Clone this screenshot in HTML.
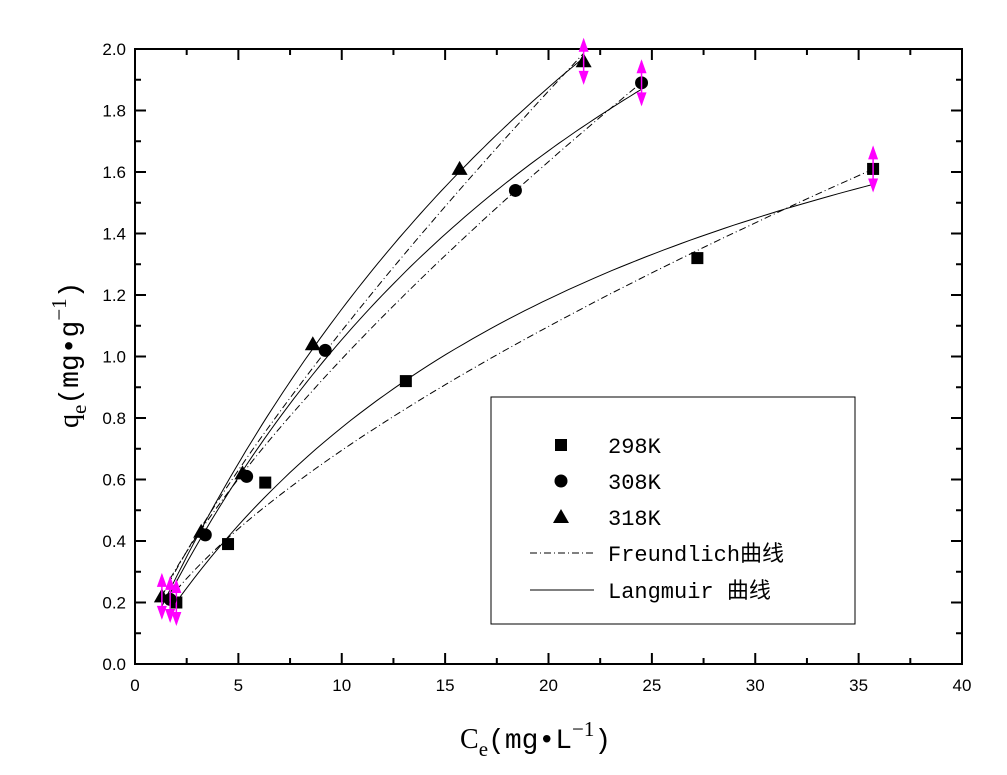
<!DOCTYPE html>
<html><head><meta charset="utf-8"><style>
body{margin:0;background:#fff;}
svg text{font-family:"Liberation Sans",sans-serif;}
</style></head><body>
<svg id="chart" width="1007" height="770" xmlns="http://www.w3.org/2000/svg">
<g id="g"></g>
</svg>
<script>
const xTicks=[0,5,10,15,20,25,30,35,40];
const yTicks=[0.0,0.2,0.4,0.6,0.8,1.0,1.2,1.4,1.6,1.8,2.0];
const seriesNames=['298K','308K','318K'];
const c298=[2.0,4.5,6.3,13.1,27.2,35.7];
const q298=[0.20,0.39,0.59,0.92,1.32,1.61];
const c308=[1.7,3.4,5.4,9.2,18.4,24.5];
const q308=[0.21,0.42,0.61,1.02,1.54,1.89];
const c318=[1.3,3.2,5.2,8.6,15.7,21.7];
const q318=[0.22,0.43,0.62,1.04,1.61,1.96];
const freundKf=[0.152,0.189,0.179];
const freundN=[0.66,0.72,0.782];
const langQm=[2.6,4.0,5.0];
const langK=[0.042,0.0358,0.030];
const errBar=0.07;

const L=135,R=962,T=49,B=664;
const X=v=>L+(v-0)/(40-0)*(R-L);
const Y=v=>B-(v-0)/(2-0)*(B-T);
const NS='http://www.w3.org/2000/svg';
const g=document.getElementById('g');
function mk(tag,attrs,parent){const e=document.createElementNS(NS,tag);for(const k in attrs)e.setAttribute(k,attrs[k]);(parent||g).appendChild(e);return e;}

const frame=mk('rect',{x:L,y:T,width:R-L,height:B-T,fill:'none',stroke:'#000','stroke-width':2});


xTicks.forEach((t,i)=>{
 const x=X(t);
 mk('line',{x1:x,y1:B,x2:x,y2:B-11,stroke:'#000','stroke-width':2});
 mk('line',{x1:x,y1:T,x2:x,y2:T+11,stroke:'#000','stroke-width':2});
 if(i<xTicks.length-1){const xm=X(t+2.5);
  mk('line',{x1:xm,y1:B,x2:xm,y2:B-6,stroke:'#000','stroke-width':2});
  mk('line',{x1:xm,y1:T,x2:xm,y2:T+6,stroke:'#000','stroke-width':2});}
 const tx=mk('text',{x:x,y:B+27,'text-anchor':'middle','font-size':17});
 tx.textContent=t;
 
 
});
yTicks.forEach((t,i)=>{
 const y=Y(t);
 mk('line',{x1:L,y1:y,x2:L+11,y2:y,stroke:'#000','stroke-width':2});
 mk('line',{x1:R,y1:y,x2:R-11,y2:y,stroke:'#000','stroke-width':2});
 if(i<yTicks.length-1){const ym=Y(t+0.1);
  mk('line',{x1:L,y1:ym,x2:L+6,y2:ym,stroke:'#000','stroke-width':2});
  mk('line',{x1:R,y1:ym,x2:R-6,y2:ym,stroke:'#000','stroke-width':2});}
 const tx=mk('text',{x:L-9,y:y+6,'text-anchor':'end','font-size':17});
 tx.textContent=t.toFixed(1);
 
 
});
const xt=mk('text',{x:460,y:748,'font-size':28,style:'font-family:"Liberation Serif",serif'});
xt.innerHTML='C<tspan font-size="21" dy="8">e</tspan><tspan dy="-8" style="font-family:\'Liberation Mono\',monospace">(mg•L</tspan><tspan font-size="21" dy="-12">−1</tspan><tspan dy="12" style="font-family:\'Liberation Mono\',monospace">)</tspan>';


const yt=mk('text',{x:0,y:0,'font-size':28,transform:'translate(78,428) rotate(-90)',style:'font-family:"Liberation Serif",serif'});
yt.innerHTML='q<tspan font-size="21" dy="8">e</tspan><tspan dy="-8" style="font-family:\'Liberation Mono\',monospace">(mg•g</tspan><tspan font-size="21" dy="-12">−1</tspan><tspan dy="12" style="font-family:\'Liberation Mono\',monospace">)</tspan>';



const cs=[c298,c308,c318], qs=[q298,q308,q318];
cs.forEach((c,s)=>{
 const c0=Math.min(...c), c1=Math.max(...c);
 let pf='',pl='';
 for(let k=0;k<=80;k++){const v=c0+(c1-c0)*k/80;
  pf+=(k?'L':'M')+X(v).toFixed(1)+','+Y(freundKf[s]*Math.pow(v,freundN[s])).toFixed(1);
  pl+=(k?'L':'M')+X(v).toFixed(1)+','+Y(langQm[s]*langK[s]*v/(1+langK[s]*v)).toFixed(1);}
 const f=mk('path',{d:pf,fill:'none',stroke:'#000','stroke-width':1,'stroke-dasharray':'7,3,1,3'});
 
 
 const l=mk('path',{d:pl,fill:'none',stroke:'#000','stroke-width':1});
 
 
});
function marker(s,x,y,parent){
 if(s==0)return mk('rect',{x:x-6,y:y-6,width:12,height:12,fill:'#000'},parent);
 if(s==1)return mk('circle',{cx:x,cy:y,r:6.5,fill:'#000'},parent);
 return mk('path',{d:`M${x},${y-8}L${x+8},${y+6}L${x-8},${y+6}Z`,fill:'#000'},parent);
}
cs.forEach((c,s)=>{
 c.forEach((v,i)=>{
  const m=marker(s,X(v),Y(qs[s][i]));
  
  
 });
 [0,c.length-1].forEach(i=>{
  const x=X(c[i]),y1=Y(qs[s][i]+errBar),y2=Y(qs[s][i]-errBar);
  const eb=mk('g',{});
  
  
  mk('line',{x1:x,y1:y1,x2:x,y2:y2,stroke:'#f0f','stroke-width':1.5},eb);
  mk('path',{d:`M${x},${y1-2}L${x+5},${y1+12}L${x-5},${y1+12}Z`,fill:'#f0f'},eb);
  mk('path',{d:`M${x},${y2+2}L${x+5},${y2-12}L${x-5},${y2-12}Z`,fill:'#f0f'},eb);
 });
});
const lg=mk('g',{});


mk('rect',{x:491,y:397,width:364,height:227,fill:'#fff',stroke:'#000','stroke-width':1},lg);
const rows=[445,481,517,553,590];
const labels=['298K','308K','318K','Freundlich曲线','Langmuir 曲线'];
rows.forEach((ry,i)=>{
 const e=mk('g',{},lg);
 
 
 if(i<3)marker(i,561,ry,e);
 else mk('line',{x1:530,y1:ry,x2:594,y2:ry,stroke:'#000','stroke-width':1,'stroke-dasharray':i==3?'7,3,1,3':'none'},e);
 const t=mk('text',{x:608,y:ry+8,'font-size':22,style:'font-family:"Liberation Mono","Noto Sans CJK SC",monospace'},e);
 t.textContent=labels[i];
});
</script>
</body></html>
